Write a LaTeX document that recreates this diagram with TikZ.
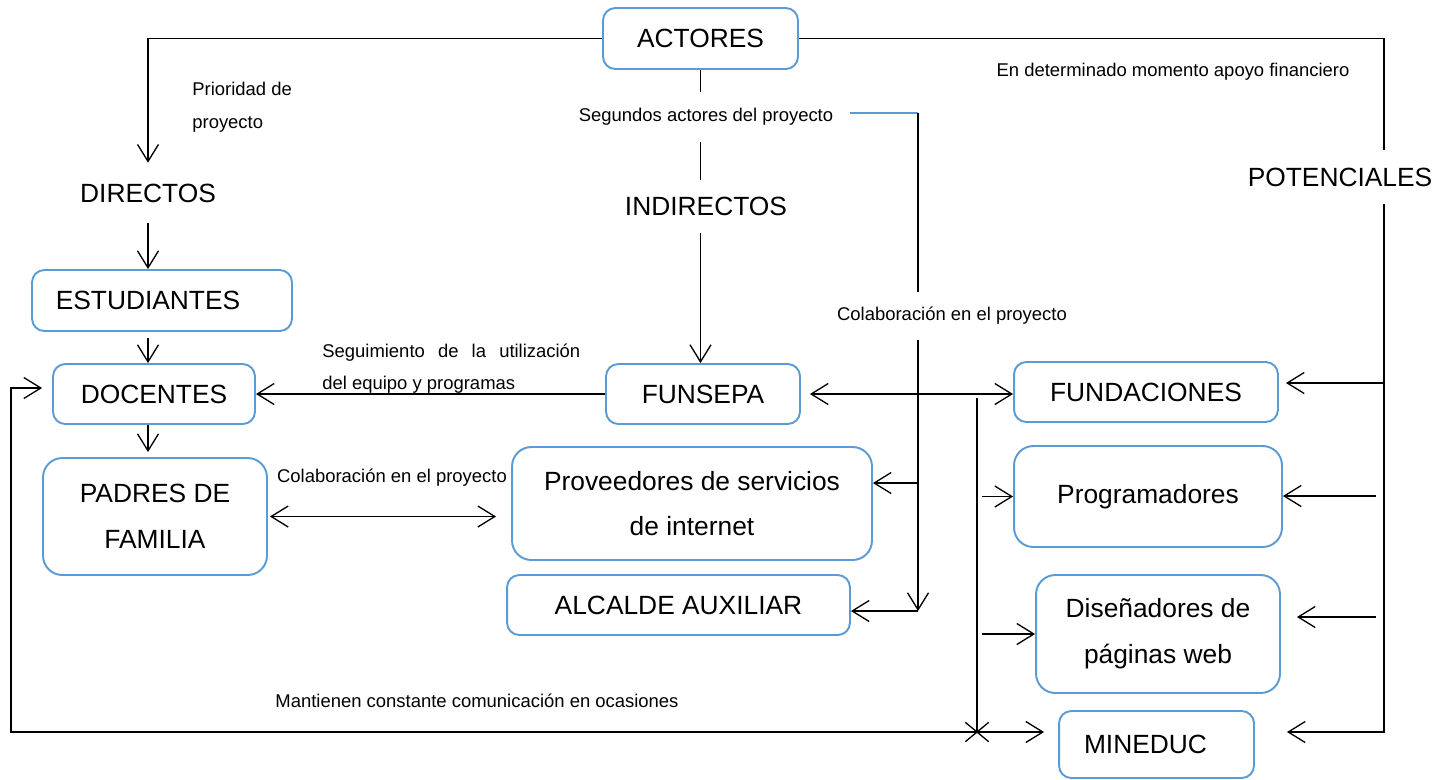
\documentclass[tikz,border=0pt]{standalone}
\usepackage{fontspec}
\setmainfont{Liberation Sans}
\usetikzlibrary{arrows.meta, shapes.misc}
\definecolor{BoxBlue}{HTML}{5B9BD5}
\tikzstyle{actor_box}=[rectangle,
                       draw=BoxBlue,
                       line width=1.1pt,
                       rounded corners=7,
                       align=center,
                       inner sep=0pt,
                       font=\fontsize{15}{26}\selectfont, ]
\tikzstyle{actor_box_big}=[actor_box,
                           rounded corners=11, ]
\tikzstyle{group_label}=[rectangle,
                         inner sep=0pt,
                         font=\fontsize{15}{18}\selectfont, ]
\tikzstyle{note}=[rectangle,
                  inner sep=0pt,
                  align=left,
                  font=\fontsize{10.5}{18.5}\selectfont, ]
\tikzstyle{link}=[line width=0.75pt]
\tikzstyle{flow}=[line width=0.75pt,
                  -{Straight Barb[length=0.34cm, width=0.42cm]}]
\tikzstyle{flow_both}=[line width=0.75pt,
                       {Straight Barb[length=0.34cm, width=0.42cm]}-{Straight Barb[length=0.34cm, width=0.42cm]}]

\begin{document}
\begin{tikzpicture}[x=0.02cm, y=-0.02cm]
    \useasboundingbox (0,0) rectangle (1452,779);

    \node at (700.5, 38.5) (actores) [actor_box, minimum width=3.9cm, minimum height=1.22cm] {ACTORES};

    \node at (148, 193) (directos) [group_label, minimum height=1.2cm] {DIRECTOS};
    \node at (706, 206.5) (indirectos) [group_label, minimum height=1.06cm] {INDIRECTOS};
    \node at (1340, 177) (potenciales) [group_label, minimum height=1.08cm] {POTENCIALES};

    \node at (162, 300.5) (estudiantes) [actor_box, minimum width=5.2cm, minimum height=1.22cm] {ESTUDIANTES\hspace{0.56cm}};
    \node at (154, 394) (docentes) [actor_box, minimum width=4.04cm, minimum height=1.2cm] {DOCENTES};
    \node at (155, 516.5) (padres) [actor_box_big, minimum width=4.48cm, minimum height=2.34cm] {PADRES DE\\FAMILIA};

    \node at (703, 394) (funsepa) [actor_box, minimum width=3.88cm, minimum height=1.2cm] {FUNSEPA};
    \node at (692, 503.5) (proveedores) [actor_box_big, minimum width=7.2cm, minimum height=2.26cm] {Proveedores de servicios\\de internet};
    \node at (678.5, 605) (alcalde) [actor_box, minimum width=6.86cm, minimum height=1.2cm] {ALCALDE AUXILIAR};

    \node at (1146, 392) (fundaciones) [actor_box, minimum width=5.28cm, minimum height=1.2cm] {FUNDACIONES};
    \node at (1148, 496.5) (programadores) [actor_box_big, minimum width=5.36cm, minimum height=2.02cm] {Programadores};
    \node at (1158, 634) (disenadores) [actor_box_big, minimum width=4.88cm, minimum height=2.36cm] {Diseñadores de\\páginas web};
    \node at (1156.5, 744.5) (mineduc) [actor_box, minimum width=3.9cm, minimum height=1.34cm] {MINEDUC\hspace{0.44cm}};

    \node at (192, 107) (prioridad) [note, anchor=west] {Prioridad de\\proyecto};
    \node at (706, 117) (segundos) [note, minimum height=0.98cm] {Segundos actores del proyecto};
    \node at (1173, 72) (apoyo) [note] {En determinado momento apoyo financiero};
    \node at (322, 368.5) (seguimiento) [note, anchor=west] {\makebox[5.16cm][s]{Seguimiento de la utilización}\\del equipo y programas};
    \node at (392, 478) (colab_padres) [note] {Colaboración en el proyecto};
    \node at (952, 316) (colaboracion) [note, minimum height=0.96cm] {Colaboración en el proyecto};
    \node at (477, 701) (mantienen) [note] {Mantienen constante comunicación en ocasiones};

    \coordinate (pot_line) at (1384, 177);
    \coordinate (prog_r) at (1376, 496);
    \coordinate (dis_r) at (1376, 617);
    \coordinate (blue_start) at (850, 113);
    \coordinate (colab_top) at (918, 113);
    \coordinate (colab_bot) at (918, 611);
    \coordinate (prov_r) at (918, 483);
    \coordinate (bus_top) at (977, 398);
    \coordinate (bus_bot) at (977, 732);
    \coordinate (ret_corner) at (11, 732);

    \draw[flow] (actores.west) -| (directos.north);
    \draw[flow] (directos.south) -- (directos.south |- estudiantes.north);
    \draw[flow, shorten <=0.12cm] (directos.south |- estudiantes.south) -- (directos.south |- docentes.north);
    \draw[flow, shorten >=0.1cm] (directos.south |- docentes.south) -- (directos.south |- padres.north);

    \draw[link] (actores.south) -- (actores.south |- segundos.north);
    \draw[link] (actores.south |- segundos.south) -- (actores.south |- indirectos.north);
    \draw[flow] (actores.south |- indirectos.south) -- (actores.south |- funsepa.north);

    \draw[link] (actores.east) -| (pot_line |- potenciales.north);
    \draw[flow] (pot_line |- potenciales.south) |- ([xshift=0.64cm, yshift=0.25cm]mineduc.east);
    \draw[flow] ([yshift=0.18cm]pot_line |- fundaciones.east) -- ([xshift=0.14cm, yshift=0.18cm]fundaciones.east);
    \draw[flow] (prog_r) -- (programadores.east |- prog_r);
    \draw[flow] (dis_r) -- ([xshift=0.32cm]disenadores.east |- dis_r);

    \draw[flow] (funsepa.west) -- (docentes.east);
    \draw[flow_both] ([xshift=0.18cm]funsepa.east) -- (fundaciones.west |- funsepa.east);
    \draw[flow_both] ([xshift=0.04cm]padres.east) -- ([xshift=-0.3cm]proveedores.west |- padres.east);

    \draw[BoxBlue, line width=0.6pt] (blue_start) -- (colab_top);
    \draw[link] (colab_top) -- (colab_top |- colaboracion.north);
    \draw[flow] (colab_top |- colaboracion.south) -- (colab_bot);
    \draw[flow] (prov_r) -- (proveedores.east |- prov_r);
    \draw[flow] (colab_bot) -- (alcalde.east |- colab_bot);

    \draw[link] (bus_top) -- (bus_bot);
    \draw[flow] (bus_bot) -- (ret_corner) |- ([xshift=-0.2cm, yshift=0.12cm]docentes.west);
    \draw[flow] (bus_bot) -- ([xshift=-0.28cm]mineduc.west |- bus_bot);
    \draw[flow] ([xshift=0.1cm]bus_top |- programadores.west) -- (programadores.west);
    \draw[flow] ([xshift=0.1cm]bus_top |- disenadores.west) -- (disenadores.west);
    \node at (bus_bot) (bus_cross) [cross out, draw, line width=0.75pt, minimum width=0.44cm, minimum height=0.36cm, inner sep=0pt] {};
\end{tikzpicture}
\end{document}
